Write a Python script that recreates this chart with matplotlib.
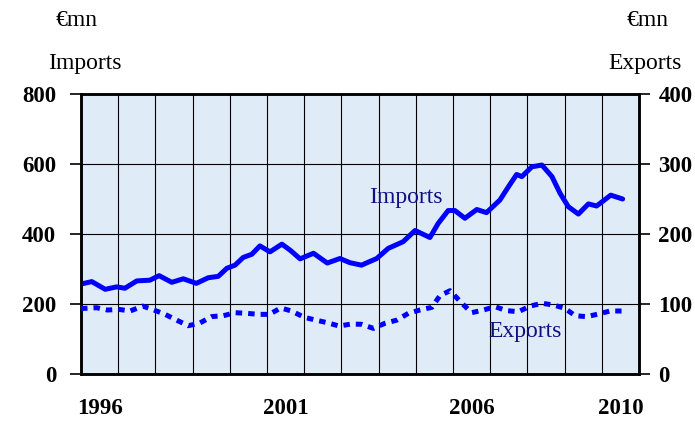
import matplotlib
matplotlib.use("Agg")
import matplotlib.pyplot as plt
from matplotlib.ticker import FixedLocator, NullFormatter

plt.rcParams['font.family'] = ['Liberation Serif', 'DejaVu Serif']

# ---- data (decimal years, EUR mn) ----
imp_t = [1996.0, 1996.29, 1996.65, 1996.96, 1997.18, 1997.5, 1997.85, 1998.1, 1998.44, 1998.75,
         1999.1, 1999.42, 1999.69, 1999.92, 2000.14, 2000.36, 2000.59, 2000.81, 2001.08, 2001.4,
         2001.62, 2001.89, 2002.25, 2002.62, 2002.96, 2003.23, 2003.54, 2003.95, 2004.26, 2004.66,
         2004.98, 2005.38, 2005.6, 2005.87, 2006.05, 2006.32, 2006.64, 2006.9, 2007.26, 2007.49,
         2007.71, 2007.85, 2008.12, 2008.39, 2008.66, 2008.88, 2009.1, 2009.37, 2009.64, 2009.86,
         2010.24, 2010.56]
imp_v = [257, 264, 242, 249, 245, 266, 268, 281, 262, 272,
         259, 275, 279, 302, 311, 333, 342, 366, 349, 371,
         354, 329, 345, 317, 330, 318, 311, 330, 359, 378,
         410, 390, 430, 467, 467, 445, 470, 461, 497, 535,
         570, 564, 592, 597, 564, 516, 478, 457, 486, 480,
         511, 500]

exp_t = [1996.0, 1996.42, 1996.71, 1997.02, 1997.32, 1997.66, 1997.96, 1998.26, 1998.57, 1998.88,
         1999.18, 1999.51, 1999.83, 2000.14, 2000.45, 2000.77, 2001.06, 2001.37, 2001.66, 2002.0,
         2002.31, 2002.62, 2002.94, 2003.26, 2003.54, 2003.86, 2004.17, 2004.49, 2004.8, 2005.11,
         2005.43, 2005.65, 2005.92, 2006.24, 2006.5, 2006.82, 2007.13, 2007.44, 2007.76, 2008.07,
         2008.39, 2008.7, 2009.01, 2009.28, 2009.59, 2009.91, 2010.22, 2010.53]
exp_v = [93.5, 94.7, 91.4, 92.3, 90, 97, 91.4, 85.2, 77, 69,
         72.4, 82, 83.3, 87.6, 86.7, 85.2, 85.2, 94.3, 90, 81,
         77, 73.3, 68.5, 71.4, 71, 65.2, 72.4, 77, 86.7, 91.4,
         95.2, 112, 119, 101, 87.6, 91.4, 96.2, 90.5, 89, 97,
         101, 98.6, 93.8, 83.3, 81.9, 85.7, 90, 90]

year_labels = ['1996', '2001', '2006', '2010']
year_label_pos = [1996, 2001, 2006, 2010]
left_ticks = [0, 200, 400, 600, 800]
right_ticks = [0, 100, 200, 300, 400]

W, H = 695, 421
fig = plt.figure(figsize=(W / 100, H / 100), dpi=100)
ax = fig.add_axes([81 / W, 1 - 374 / H, (639 - 81) / W, (374 - 94) / H])
ax.set_facecolor('#e0ebf8')

ax.set_xlim(1996, 2011)
ax.set_ylim(0, 800)

line_blue = '#0000ff'
ax.plot(imp_t, imp_v, color=line_blue, lw=3.6, solid_joinstyle='round',
        solid_capstyle='round', zorder=5)

ax2 = ax.twinx()
ax2.set_ylim(0, 400)
ax2.plot(exp_t, exp_v, color=line_blue, lw=3.6, linestyle=(0, (1.3, 1.2)),
         dash_capstyle='butt', zorder=5)

# grid: vertical lines each year, horizontal every 200
ax.xaxis.set_major_locator(FixedLocator(list(range(1996, 2012))))
ax.xaxis.set_major_formatter(NullFormatter())
ax.xaxis.set_minor_locator(FixedLocator([y + 0.5 for y in year_label_pos]))
ax.set_xticklabels(year_labels, minor=True)
ax.tick_params(axis='x', which='both', length=0)
ax.tick_params(axis='x', which='minor', pad=17, labelsize=16.5)
for lab in ax.get_xticklabels(minor=True):
    lab.set_fontweight('bold')

ax.set_yticks(left_ticks)
ax.set_yticklabels([str(v) for v in left_ticks], fontweight='bold', fontsize=16.5)
ax.tick_params(axis='y', length=8, width=1.2, pad=10, direction='out')

ax2.set_yticks(right_ticks)
ax2.set_yticklabels([str(v) for v in right_ticks], fontweight='bold', fontsize=16.5)
ax2.tick_params(axis='y', length=8, width=1.2, pad=6, direction='out')

ax.grid(True, which='major', axis='x', color='black', lw=0.8)
ax.grid(True, which='major', axis='y', color='black', lw=0.8)
ax.set_axisbelow(True)
for ln in ax.get_xgridlines() + ax.get_ygridlines():
    ln.set_zorder(1)

for a in (ax, ax2):
    for s in a.spines.values():
        s.set_linewidth(1.8)
        s.set_color('black')

# in-plot labels
ax.text(2004.74, 503, 'Imports', color='#10107f', fontsize=17, ha='center', va='center', zorder=6)
ax2.text(2007.94, 61, 'Exports', color='#10107f', fontsize=17, ha='center', va='center', zorder=6)

# unit labels
fig.text(77 / W, 1 - 21 / H, '€mn', fontsize=17, ha='center', va='center')
fig.text(85 / W, 1 - 63 / H, 'Imports', fontsize=17, ha='center', va='center')
fig.text(648 / W, 1 - 21 / H, '€mn', fontsize=17, ha='center', va='center')
fig.text(645 / W, 1 - 63 / H, 'Exports', fontsize=17, ha='center', va='center')

fig.savefig('out.png', dpi=100, facecolor='white')
